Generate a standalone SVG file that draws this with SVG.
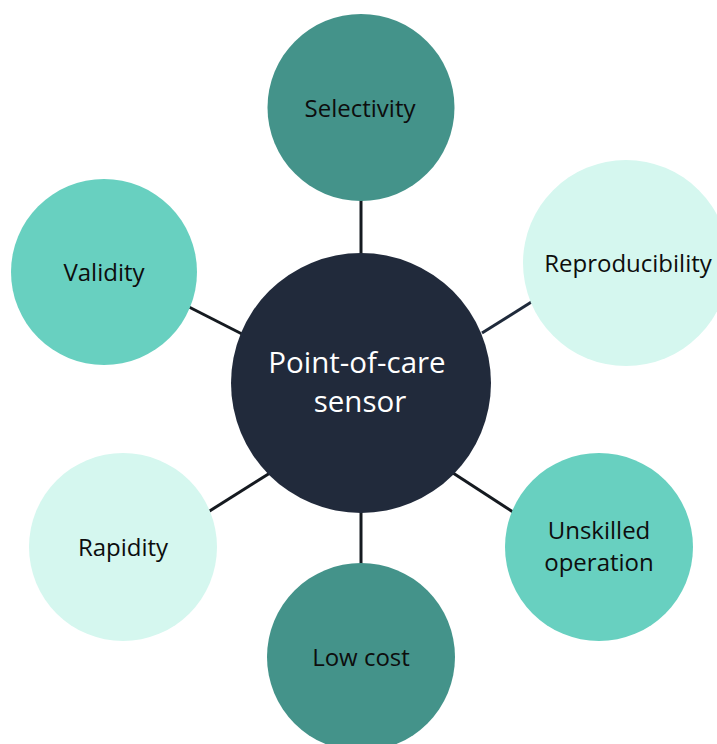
<svg xmlns="http://www.w3.org/2000/svg" width="717" height="744" viewBox="0 0 717 744">
  <style>
    .link { stroke: #151a20; stroke-width: 3; stroke-linecap: butt; }
    .hub { fill: #212a3b; }
    .teal { fill: #44938a; }
    .aqua { fill: #68d0c0; }
    .mint { fill: #d5f7ef; }
    text { font-family: "Open Sans", "Noto Sans", "DejaVu Sans", sans-serif; text-anchor: middle; }
    .lbl { font-size: 24px; fill: #0d0d0d; }
    .hub-lbl { font-size: 29.5px; fill: #ffffff; }
  </style>
  <rect width="717" height="744" fill="#ffffff"/>

  <!-- spokes from the hub to each property -->
  <g id="connectors">
    <line class="link" x1="361" y1="200" x2="361" y2="255"/>
    <line class="link" x1="189" y1="307" x2="242" y2="334"/>
    <line class="link" x1="482" y1="333" x2="533" y2="301" style="stroke:#1f2a3b"/>
    <line class="link" x1="208" y1="512" x2="270" y2="473"/>
    <line class="link" x1="453" y1="473" x2="513" y2="512"/>
    <line class="link" x1="361" y1="510" x2="361" y2="565"/>
  </g>

  <g id="selectivity">
    <circle class="teal" cx="361" cy="107.5" r="93.5"/>
    <text class="lbl" x="360" y="117">Selectivity</text>
  </g>

  <g id="validity">
    <circle class="aqua" cx="104" cy="272" r="93"/>
    <text class="lbl" x="104" y="281">Validity</text>
  </g>

  <g id="reproducibility">
    <circle class="mint" cx="626" cy="263" r="103"/>
    <text class="lbl" x="628" y="272">Reproducibility</text>
  </g>

  <g id="rapidity">
    <circle class="mint" cx="123" cy="547" r="94"/>
    <text class="lbl" x="123" y="556">Rapidity</text>
  </g>

  <g id="unskilled-operation">
    <circle class="aqua" cx="599" cy="547" r="94"/>
    <text class="lbl" x="599" y="539">Unskilled</text>
    <text class="lbl" x="599" y="571">operation</text>
  </g>

  <g id="low-cost">
    <circle class="teal" cx="361" cy="657" r="94"/>
    <text class="lbl" x="361" y="666">Low cost</text>
  </g>

  <g id="point-of-care-sensor">
    <circle class="hub" cx="361" cy="383" r="130"/>
    <text class="hub-lbl" x="357" y="373">Point-of-care</text>
    <text class="hub-lbl" x="360" y="412">sensor</text>
  </g>
</svg>
